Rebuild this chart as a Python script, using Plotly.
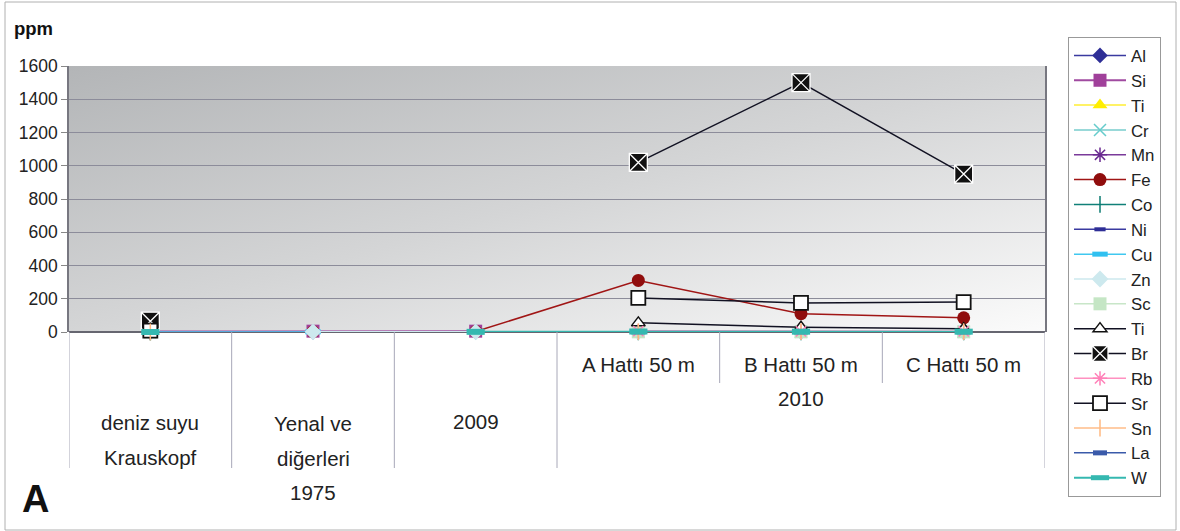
import base64
import plotly.graph_objects as go

# ---------------- data ----------------
categories = ["deniz suyu Krauskopf", "Yenal ve diğerleri 1975", "2009",
              "A Hattı 50 m", "B Hattı 50 m", "C Hattı 50 m"]

Al = [0.01, 1, 1, 2, 1, 1]
Si = [3, 5, 5, None, None, None]
Ti = [0.001, None, None, None, None, None]
Cr = [0.00005, None, None, 3, 2, 2]
Mn = [0.002, None, None, 4, 3, 2]
Fe = [None, 2, 3, 310, 110, 85]
Co = [0.0004, None, None, 1, 1, 1]
Ni = [0.002, None, None, 1, 1, 1]
Cu = [0.003, 1, 1, 2, 2, 2]
Zn = [None, 1, 1, 3, 2, 2]
Sc = [0.00004, None, None, 1, 1, 1]
Ti_b = [None, None, None, 55, 28, 20]
Br = [65, None, None, 1020, 1500, 950]
Rb = [0.12, None, None, 5, 4, 4]
Sr = [8, None, None, 205, 175, 180]
Sn = [0.0008, None, None, 2, 2, 2]
La = [0.000003, None, None, 1, 1, 1]
W = [0.0001, None, 1, 3, 2, 2]

yticks = [0, 200, 400, 600, 800, 1000, 1200, 1400, 1600]

# label lines under the axis: (category index, text, pixel y)
label_lines = [
    (0, "deniz suyu", 422), (0, "Krauskopf", 457),
    (1, "Yenal ve", 423), (1, "diğerleri", 458), (1, "1975", 492),
    (2, "2009", 421),
    (3, "A Hattı 50 m", 364), (4, "B Hattı 50 m", 364), (5, "C Hattı 50 m", 364),
    (4, "2010", 398),
]

# ---------------- layout geometry ----------------
W_PX, H_PX = 1180, 531
L, R, T, B = 69, 1045, 66, 332
PH = B - T
PW = R - L


def py(p):
    return (B - p) / PH


def px(p):
    return (p - L) / PW


FONT = "Liberation Sans, Arial, sans-serif"

series = [
    ("Al", Al, dict(symbol="diamond", size=12, color="#2e2e96"), "#3a3aa0", 1.5),
    ("Si", Si, dict(symbol="square", size=13, color="#a0409a"), "#a04aa0", 2),
    ("Ti", Ti, dict(symbol="triangle-up", size=13, color="#ffee00"), "#ffee33", 1.5),
    ("Cr", Cr, dict(symbol="x-thin", size=12, color="#66cccc", line=dict(width=1.5, color="#66cccc")), "#77cccc", 1.5),
    ("Mn", Mn, dict(symbol="asterisk", size=12, color="#6a2a90", line=dict(width=1.5, color="#6a2a90")), "#7a3a9a", 1.5),
    ("Fe", Fe, dict(symbol="circle", size=13, color="#900d0d"), "#a01515", 1.5),
    ("Co", Co, dict(symbol="line-ns", size=12, color="#0a7a70", line=dict(width=1.5, color="#0a7a70")), "#108078", 1.5),
    ("Ni", Ni, dict(symbol="line-ew", size=8, color="#2e2e96", line=dict(width=4, color="#2e2e96")), "#3a3aa0", 1.5),
    ("Cu", Cu, dict(symbol="line-ew", size=11, color="#30c0f0", line=dict(width=5, color="#30c0f0")), "#40c8f0", 1.5),
    ("Zn", Zn, dict(symbol="diamond", size=13, color="#cde9ee"), "#cde9ee", 1.5),
    ("Sc", Sc, dict(symbol="square", size=13, color="#c5e6c5"), "#c8e6c8", 1.5),
    ("Ti", Ti_b, dict(symbol="triangle-up", size=12, color="white", line=dict(width=1.5, color="#111111")), "#111122", 1.5),
    ("Br", Br, dict(symbol="square-x", size=18, color="#111111", line=dict(width=1.3, color="white")), "#111122", 1.5),
    ("Rb", Rb, dict(symbol="asterisk", size=12, color="#ff80b8", line=dict(width=1.5, color="#ff80b8")), "#ff90c0", 1.5),
    ("Sr", Sr, dict(symbol="square", size=14, color="white", line=dict(width=1.8, color="#111111")), "#111122", 1.5),
    ("Sn", Sn, dict(symbol="line-ns", size=12, color="#ffb880", line=dict(width=1.5, color="#ffb880")), "#ffbc88", 1.5),
    ("La", La, dict(symbol="line-ew", size=10, color="#3a5aaa", line=dict(width=5, color="#3a5aaa")), "#3a5aaa", 1.5),
    ("W", W, dict(symbol="line-ew", size=13, color="#35b8b0", line=dict(width=6, color="#35b8b0")), "#35b8b0", 2),
]

fig = go.Figure()
xidx = list(range(len(categories)))
for name, vals, marker, lcol, lw in series:
    fig.add_trace(go.Scatter(
        x=xidx, y=vals, name=name, mode="lines+markers",
        line=dict(color=lcol, width=lw), marker=marker,
        connectgaps=False, cliponaxis=False,
    ))

# gradient background
svg = ('<svg xmlns="http://www.w3.org/2000/svg" width="200" height="100" viewBox="0 0 200 100" '
       'preserveAspectRatio="none"><defs><linearGradient id="g" x1="0" y1="0" x2="1" y2="1">'
       '<stop offset="0" stop-color="#b3b5b7"/><stop offset="0.5" stop-color="#d4d5d6"/>'
       '<stop offset="1" stop-color="#fbfbfb"/></linearGradient></defs>'
       '<rect width="200" height="100" fill="url(#g)"/></svg>')
src = "data:image/svg+xml;base64," + base64.b64encode(svg.encode()).decode()

shapes = []
# separators below the axis
for s in [-0.5, 0.5, 1.5, 2.5, 5.5]:
    shapes.append(dict(type="line", xref="x", yref="paper", x0=s, x1=s, y0=0, y1=py(468),
                       line=dict(color="#a8a8b8", width=1)))
for s in [3.5, 4.5]:
    shapes.append(dict(type="line", xref="x", yref="paper", x0=s, x1=s, y0=0, y1=py(383),
                       line=dict(color="#a8a8b8", width=1)))
# outer border
shapes.append(dict(type="rect", xref="paper", yref="paper", x0=px(5), x1=px(1176),
                   y0=py(530), y1=py(2), line=dict(color="#b0b0b0", width=1),
                   fillcolor="rgba(0,0,0,0)", layer="below"))

annotations = []
for ci, txt, ypix in label_lines:
    annotations.append(dict(x=ci, y=py(ypix), xref="x", yref="paper", text=txt,
                            showarrow=False, xanchor="center", yanchor="middle",
                            font=dict(family=FONT, size=20.5, color="#222222")))
annotations.append(dict(x=px(12), y=py(29), xref="paper", yref="paper", text="<b>ppm</b>",
                        showarrow=False, xanchor="left", yanchor="middle",
                        font=dict(family=FONT, size=18.5, color="#111111")))
annotations.append(dict(x=px(20), y=py(499), xref="paper", yref="paper", text="<b>A</b>",
                        showarrow=False, xanchor="left", yanchor="middle",
                        font=dict(family=FONT, size=38, color="#111111")))

fig.update_layout(
    width=W_PX, height=H_PX,
    margin=dict(l=L, r=W_PX - R, t=T, b=H_PX - B, pad=0),
    paper_bgcolor="white", plot_bgcolor="rgba(0,0,0,0)",
    font=dict(family=FONT, size=17, color="#222222"),
    images=[dict(source=src, xref="paper", yref="paper", x=0, y=1, sizex=1, sizey=1,
                 sizing="stretch", xanchor="left", yanchor="top", layer="below")],
    xaxis=dict(range=[-0.5, 5.5], showticklabels=False, showgrid=False, zeroline=False,
               showline=False, ticks=""),
    yaxis=dict(range=[0, 1600], tickvals=yticks, ticktext=[str(v) for v in yticks],
               showgrid=True, gridcolor="#8c8c9a", gridwidth=1, zeroline=True,
               zerolinecolor="#666670", zerolinewidth=1.5,
               showline=True, linecolor="#777780", linewidth=1.5, mirror=True,
               ticks="outside", ticklen=6, tickcolor="#888888",
               tickfont=dict(family=FONT, size=17.5, color="#222222")),
    legend=dict(x=px(1068), y=py(37), xanchor="left", yanchor="top",
                bgcolor="white", bordercolor="#999999", borderwidth=1,
                font=dict(family=FONT, size=16.8, color="#222222"),
                itemwidth=52, tracegroupgap=0, traceorder="normal",
                maxheight=470),
    shapes=shapes, annotations=annotations,
    showlegend=True,
)

fig.write_html("out.html")
